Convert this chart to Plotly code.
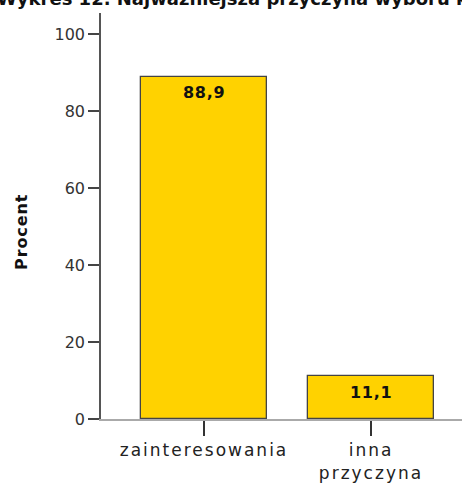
import plotly.graph_objects as go

categories = ["zainteresowania", "inna<br>przyczyna"]
values = [88.9, 11.1]
value_labels = ["88,9", "11,1"]
y_ticks = [0, 20, 40, 60, 80, 100]
y_title = "Procent"
chart_title = "Wykres 12. Najważniejsza przyczyna wyboru kierunku studiów"

W, H = 462, 485
ML, MR, MT, MB = 101, 0, 13, 66
pw = W - ML - MR
ph = H - MT - MB

def ls(text, sp):
    return f'<span style="letter-spacing:{sp}px">{text}</span>'

x_idx = list(range(len(categories)))

fig = go.Figure()
fig.add_trace(go.Bar(
    x=x_idx, y=values, width=0.754,
    marker=dict(color="#FFD200", line=dict(color="#444444", width=1.3)),
    hoverinfo="skip",
))

# value labels inside bars
for i, (v, t) in enumerate(zip(values, value_labels)):
    fig.add_annotation(x=i, y=v, xref="x", yref="y", text="<b>" + ls(t, 0.7) + "</b>",
                       showarrow=False, yanchor="middle", xanchor="center", yshift=-16,
                       font=dict(family="DejaVu Sans", size=16, color="#111111"))

# y axis title
fig.add_annotation(x=(22 - ML) / pw, y=(H - MB - 232) / ph, xref="paper", yref="paper",
                   text="<b>" + ls(y_title, 0.9) + "</b>", textangle=-90, showarrow=False,
                   xanchor="center", yanchor="middle",
                   font=dict(family="DejaVu Sans", size=16, color="#111111"))

# chart title (clipped at top)
fig.add_annotation(x=(-5 - ML) / pw, y=1 + (MT + 1) / ph, xref="paper", yref="paper",
                   text="<b>" + chart_title + "</b>", showarrow=False,
                   xanchor="left", yanchor="middle",
                   font=dict(family="DejaVu Sans", size=18, color="#111111"))

fig.update_layout(
    width=W, height=H,
    margin=dict(l=ML, r=MR, t=MT, b=MB),
    plot_bgcolor="white", paper_bgcolor="white",
    showlegend=False,
    bargap=0,
)
fig.update_xaxes(
    range=[-0.617, 1.545],
    tickmode="array", tickvals=x_idx,
    ticktext=[ls(c, 2) for c in categories],
    ticks="outside", ticklen=15, tickwidth=2, tickcolor="#333333",
    showline=True, linecolor="#AAAAAA", linewidth=2,
    showgrid=False, zeroline=False,
    tickfont=dict(family="DejaVu Sans", size=17, color="#222222"),
)
fig.update_yaxes(
    range=[0, (419 - MT) / 3.85],
    tickmode="array", tickvals=y_ticks, ticktext=[str(t) for t in y_ticks],
    ticks="outside", ticklen=11, tickwidth=2, tickcolor="#444444",
    showline=True, linecolor="#555555", linewidth=1.5,
    showgrid=False, zeroline=False,
    tickfont=dict(family="DejaVu Sans", size=16, color="#333333"),
)

fig.write_html("out.html", config={"displayModeBar": False},
               post_script="document.body.style.margin='0';document.body.style.overflow='hidden';")
